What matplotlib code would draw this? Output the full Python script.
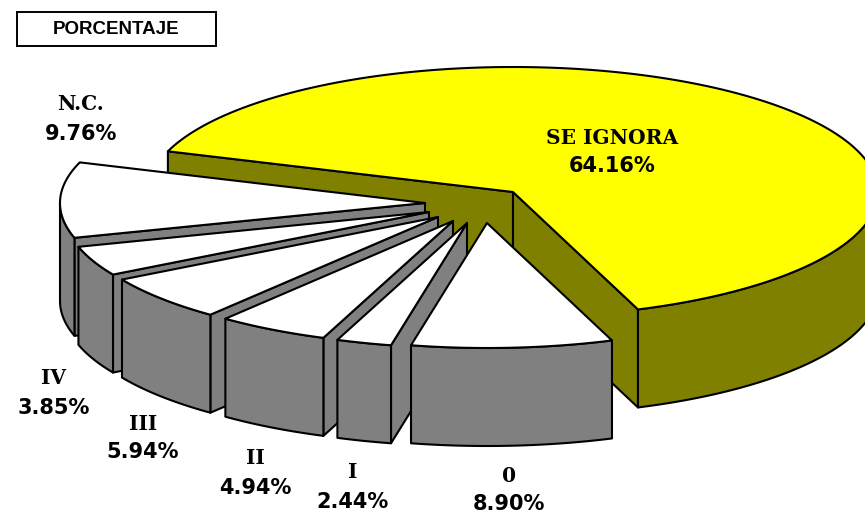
import numpy as np
import matplotlib
matplotlib.use("Agg")
import matplotlib.pyplot as plt
from matplotlib.patches import Polygon, Rectangle

# valores del grafico
categorias = ["SE IGNORA", "0", "I", "II", "III", "IV", "N.C."]
porcentajes = [64.16, 8.90, 2.44, 4.94, 5.94, 3.85, 9.76]

# geometria del pastel 3D (en pixeles)
ANGULO_INICIO = 161.0
RADIO_X = 365
RADIO_Y = 125
ALTO = 98
apices = [(513, 192), (487, 223), (467, 223), (453, 221), (438, 217), (429, 212), (425, 203)]
pos_etiquetas = [(612, 152), (509, 490), (353, 487), (255, 473), (143, 438), (54, 393), (81, 119)]
colores_top = ["#ffff00", "#ffffff", "#ffffff", "#ffffff", "#ffffff", "#ffffff", "#ffffff"]
colores_lado = ["#808000", "#808080", "#808080", "#808080", "#808080", "#808080", "#808080"]
# orden de dibujo: de atras hacia adelante
orden = [0, 6, 5, 4, 3, 2, 1]

fig = plt.figure(figsize=(8.65, 5.14), dpi=100)
ax = fig.add_axes([0, 0, 1, 1])
ax.set_xlim(0, 865)
ax.set_ylim(514, 0)
ax.axis("off")


def borde(apice, ang):
    # puntos del arco exterior para los angulos dados
    ang = np.radians(ang)
    return np.column_stack([apice[0] + RADIO_X * np.cos(ang), apice[1] - RADIO_Y * np.sin(ang)])


def poligono(puntos, color, z):
    ax.add_patch(Polygon(puntos, closed=True, facecolor=color, edgecolor="black",
                         linewidth=1.5, joinstyle="round", zorder=z))


# angulos de cada porcion, en sentido horario
limites = ANGULO_INICIO - np.concatenate([[0], np.cumsum(porcentajes)]) * 3.6

z = 1
for i in orden:
    ini, fin = limites[i], limites[i + 1]
    apice = apices[i]
    abajo = np.array([0, ALTO])

    # paredes radiales visibles
    for ang, visible in [(ini, np.cos(np.radians(ini)) < 0), (fin, np.cos(np.radians(fin)) > 0)]:
        if visible:
            p = borde(apice, [ang])[0]
            poligono([apice, p, p + abajo, np.array(apice) + abajo], colores_lado[i], z)
            z += 1

    # pared exterior, solo la mitad de abajo de la elipse
    a, b = max(fin, -180), min(ini, 0)
    if a < b:
        arco = borde(apice, np.linspace(b, a, 80))
        poligono(np.vstack([arco, arco[::-1] + abajo]), colores_lado[i], z)
        z += 1

    # cara superior
    arco = borde(apice, np.linspace(ini, fin, 160))
    poligono(np.vstack([[apice], arco]), colores_top[i], z)
    z += 1

# nombre en serif y porcentaje en sans, como en el original
for cat, val, (x, y) in zip(categorias, porcentajes, pos_etiquetas):
    ax.text(x, y - 14.5, cat, family="DejaVu Serif", fontweight="bold", fontsize=14.5,
            color="black", ha="center", va="center", zorder=50)
    ax.text(x, y + 14.5, f"{val:.2f}%", family="DejaVu Sans", fontweight="bold", fontsize=15,
            color="black", ha="center", va="center", zorder=50)

# recuadro del titulo
ax.add_patch(Rectangle((17, 12), 199, 34, facecolor="white", edgecolor="black", linewidth=1.4, zorder=50))
ax.text(116.5, 29, "PORCENTAJE", family="Liberation Sans", fontweight="bold", fontsize=13.5,
        ha="center", va="center", zorder=51)

fig.savefig("out.png", dpi=100)
